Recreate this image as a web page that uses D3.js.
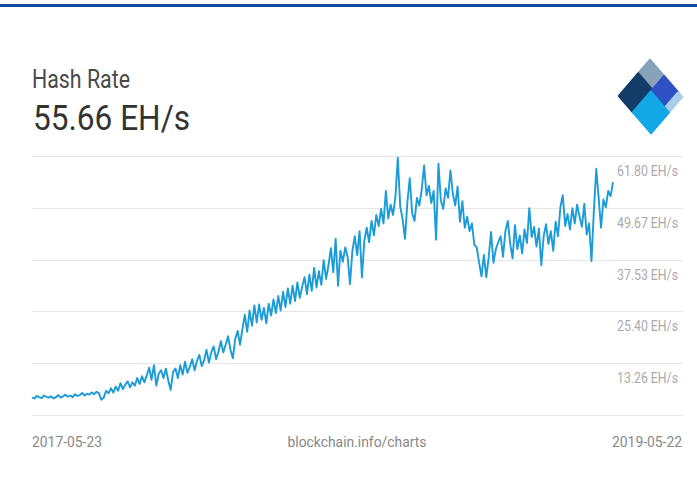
<!DOCTYPE html>
<html>
<head>
<meta charset="utf-8">
<script src="https://cdn.jsdelivr.net/npm/d3@7"></script>
<style>
  html, body { margin: 0; padding: 0; background: #fff; }
  svg { display: block; font-family: Roboto, "Noto Sans", sans-serif; }
</style>
</head>
<body>
<svg id="chart" width="697" height="498"></svg>
<script>
// ---- data ----
const title = "Hash Rate";
const currentValue = "55.66 EH/s";
const startDate = "2017-05-23";
const endDate = "2019-05-22";
const stepDays = 3;
const sourceLabel = "blockchain.info/charts";
const yTicks = [13.26, 25.40, 37.53, 49.67, 61.80];
const yTickLabels = ["13.26 EH/s", "25.40 EH/s", "37.53 EH/s", "49.67 EH/s", "61.80 EH/s"];
const yMin = 1.13;
// hash rate, EH/s, one value every 3 days
const hashRate = [
  5.2, 5.0, 5.6, 5.3, 5.1, 5.7, 5.4, 5.2, 5.5, 5.0,
  5.3, 5.8, 5.2, 5.5, 5.9, 5.4, 5.7, 5.3, 6.0, 5.6,
  5.8, 6.3, 5.7, 6.1, 5.9, 6.4, 6.0, 6.6, 6.2, 4.7,
  5.2, 6.8, 6.2, 7.4, 6.4, 7.8, 6.8, 8.6, 7.2, 8.2,
  9.0, 7.6, 8.8, 8.0, 9.8, 8.4, 10.2, 8.8, 10.4, 12.2,
  9.4, 12.8, 8.0, 10.8, 11.6, 9.8, 12.0, 9.2, 7.0, 11.2,
  12.0, 9.8, 12.8, 10.6, 13.6, 11.0, 12.4, 14.2, 11.6, 13.8,
  15.2, 12.6, 14.0, 16.4, 13.4, 15.8, 17.2, 14.2, 16.0, 18.4,
  15.8, 17.6, 19.6, 16.4, 14.4, 19.0, 20.8, 17.6, 21.2, 24.6,
  20.6, 25.6, 22.0, 26.8, 22.8, 27.0, 23.4, 26.2, 22.6, 27.2,
  24.4, 28.2, 25.0, 29.0, 25.6, 30.0, 26.4, 30.8, 27.2, 31.4,
  27.8, 32.2, 28.6, 31.2, 33.4, 29.4, 34.0, 30.2, 35.6, 31.0,
  34.8, 31.6, 37.4, 33.0, 36.2, 40.2, 34.6, 42.4, 31.4, 39.6,
  37.0, 40.4, 38.2, 31.8, 39.6, 43.0, 38.6, 44.2, 33.4, 42.0,
  45.0, 41.6, 46.6, 43.2, 48.0, 45.4, 49.4, 46.0, 53.6, 47.2,
  50.4, 48.0, 52.2, 61.4, 50.0, 47.0, 42.4, 51.0, 56.6, 48.4,
  46.6, 52.0, 50.2, 54.0, 59.6, 52.6, 54.8, 50.8, 53.6, 42.2,
  60.0, 51.4, 49.4, 54.2, 52.0, 58.4, 53.0, 50.2, 54.6, 46.4,
  51.2, 45.0, 47.6, 44.2, 46.0, 41.0, 40.4, 36.8, 33.6, 38.6,
  33.4, 38.0, 44.0, 36.8, 40.0, 41.6, 43.0, 38.2, 44.2, 46.6,
  41.2, 37.8, 45.6, 40.0, 43.2, 39.0, 44.6, 41.4, 49.6, 42.8,
  45.2, 40.6, 44.8, 36.2, 43.0, 45.8, 41.2, 44.2, 39.6, 46.4,
  43.0, 49.8, 52.6, 45.4, 48.2, 44.6, 49.6, 46.0, 50.4, 47.6,
  45.2, 50.6, 43.4, 46.0, 37.2, 49.0, 58.8, 52.0, 45.0, 51.6,
  49.8, 53.6, 52.4, 55.66
];

// ---- drawing ----
const svg = d3.select("#chart");
const parse = d3.utcParse("%Y-%m-%d");
const t0 = parse(startDate), t1 = parse(endDate);
const series = hashRate.map((v, i) => ({ date: d3.utcDay.offset(t0, i * stepDays), value: v }));

const x = d3.scaleUtc().domain([t0, t1]).range([32, 613]);
const y = d3.scaleLinear().domain([yMin, yTicks[yTicks.length - 1]]).range([415, 156]);

// top bar
svg.append("rect").attr("x", 0).attr("y", 4).attr("width", 697).attr("height", 3).attr("fill", "#0b4a9c");

// title texts
svg.append("text").attr("x", 32).attr("y", 88)
  .attr("font-size", 25).attr("fill", "#4a4a4a")
  .attr("textLength", 98).attr("lengthAdjust", "spacingAndGlyphs")
  .text(title);
svg.append("text").attr("x", 33).attr("y", 130)
  .attr("font-size", 35).attr("fill", "#333")
  .attr("textLength", 157).attr("lengthAdjust", "spacingAndGlyphs")
  .text(currentValue);

// logo (diamond of parallelogram pieces)
const T = [650, 60], A = [32, 37], B = [-31, 36];
const P = (a, b) => [T[0] + a * A[0] + b * B[0], T[1] + a * A[1] + b * B[1]];
const pieces = [
  { a: [0, 0.44], b: [0, 0.38], c: "#87a2b9" },
  { a: [0, 0.44], b: [0.38, 1], c: "#143c69" },
  { a: [0.44, 0.88], b: [0, 0.43], c: "#2e50c4" },
  { a: [0.88, 1], b: [0, 0.43], c: "#a9cfe8" },
  { a: [0.44, 1], b: [0.43, 1], c: "#12a8e5" }
];
const logo = svg.append("g");
pieces.forEach(p => {
  const pts = [P(p.a[0], p.b[0]), P(p.a[1], p.b[0]), P(p.a[1], p.b[1]), P(p.a[0], p.b[1])];
  logo.append("polygon").attr("points", pts.map(q => q.join(",")).join(" ")).attr("fill", p.c)
    .attr("stroke", p.c).attr("stroke-width", 2.5).attr("stroke-linejoin", "round");
});

// grid lines
const gridVals = [yMin, ...yTicks];
svg.append("g").selectAll("line").data(gridVals).join("line")
  .attr("x1", 32).attr("x2", 683)
  .attr("y1", d => Math.round(y(d)) + 0.5).attr("y2", d => Math.round(y(d)) + 0.5)
  .attr("stroke", "#e6e6e6").attr("stroke-width", 1);

// y labels
svg.append("g").selectAll("text").data(yTicks).join("text")
  .attr("x", 678).attr("y", d => y(d) + 20)
  .attr("text-anchor", "end")
  .attr("font-size", 15).attr("fill", "#aaa")
  .attr("textLength", 61).attr("lengthAdjust", "spacingAndGlyphs")
  .text((d, i) => yTickLabels[i]);

// line
const line = d3.line().x(d => x(d.date)).y(d => y(d.value)).curve(d3.curveLinear);
svg.append("path").datum(series)
  .attr("d", line).attr("fill", "none")
  .attr("stroke", "#1b9bd8").attr("stroke-width", 1.9).attr("stroke-linejoin", "round");

// bottom labels
svg.append("text").attr("x", 32).attr("y", 447).attr("font-size", 15).attr("fill", "#888")
  .attr("textLength", 70).attr("lengthAdjust", "spacingAndGlyphs").text(startDate);
svg.append("text").attr("x", 357).attr("y", 447).attr("font-size", 15).attr("fill", "#888")
  .attr("text-anchor", "middle")
  .attr("textLength", 139).attr("lengthAdjust", "spacingAndGlyphs").text(sourceLabel);
svg.append("text").attr("x", 682).attr("y", 447).attr("font-size", 15).attr("fill", "#888")
  .attr("text-anchor", "end")
  .attr("textLength", 70).attr("lengthAdjust", "spacingAndGlyphs").text(endDate);
</script>
</body>
</html>
